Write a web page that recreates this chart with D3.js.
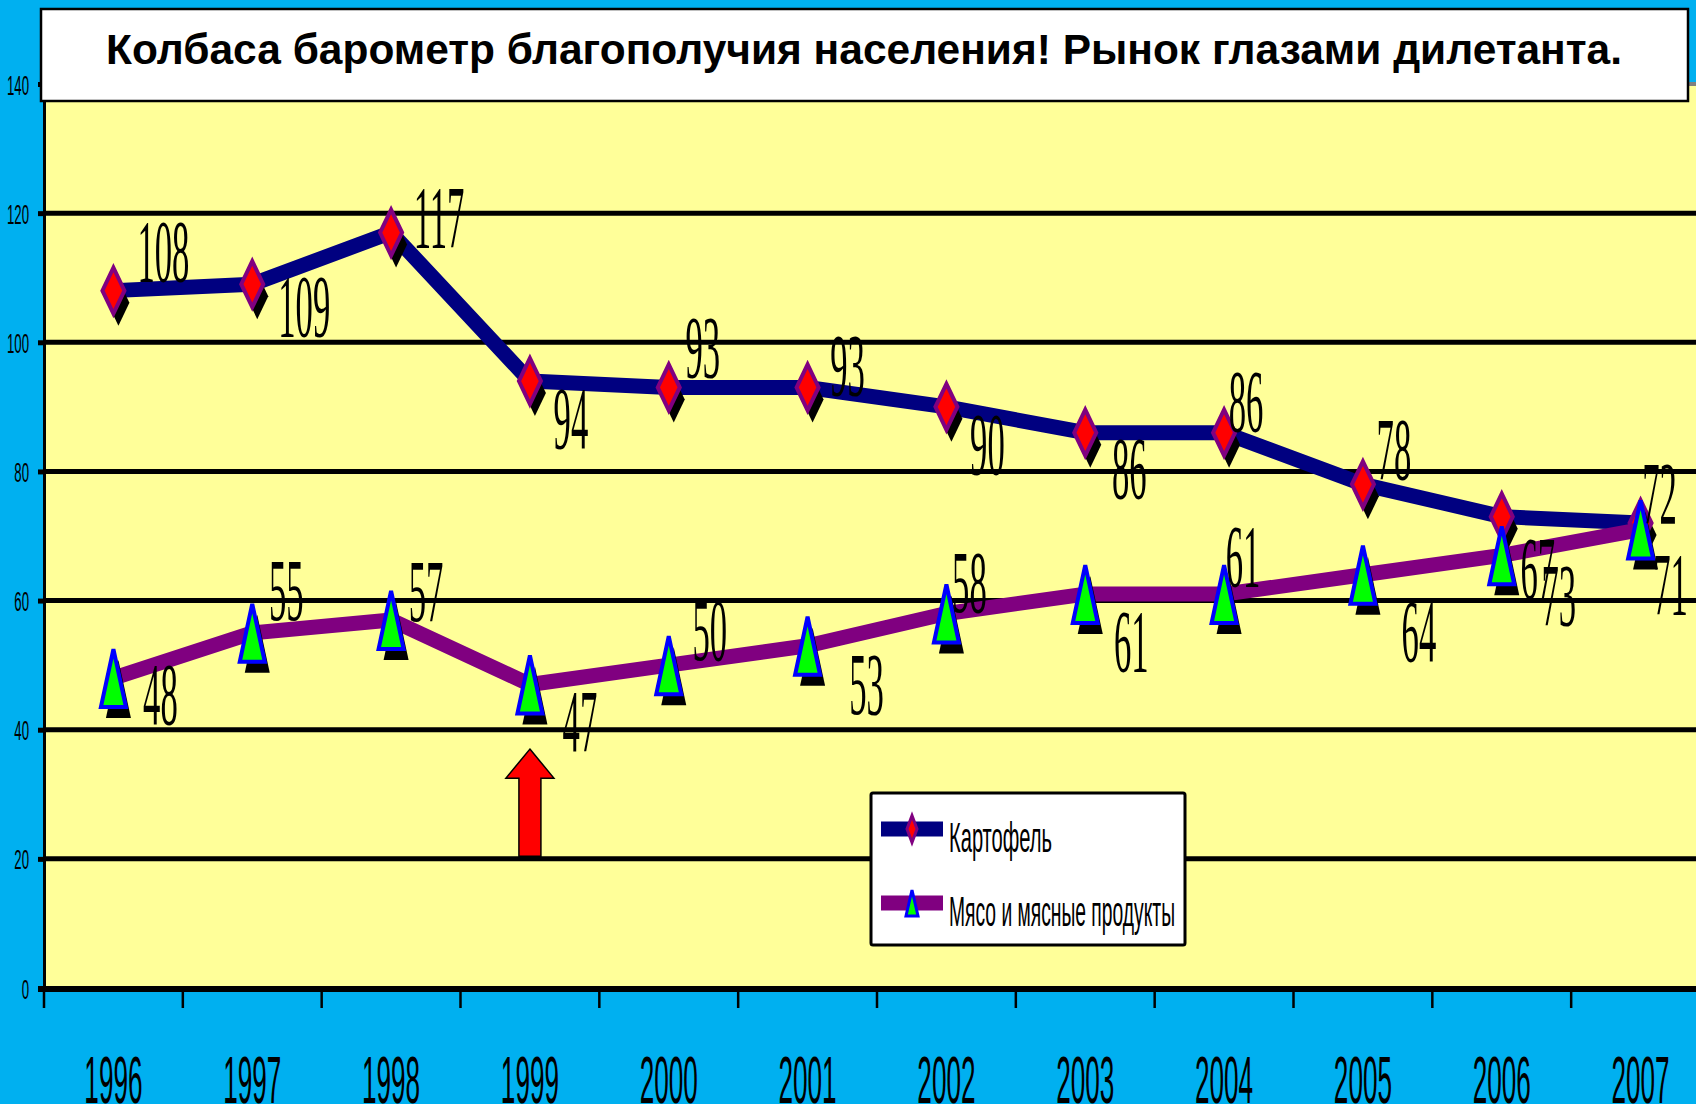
<!DOCTYPE html>
<html>
<head>
<meta charset="utf-8">
<script src="https://cdn.jsdelivr.net/npm/d3@7"></script>
<style>
  html, body { margin: 0; padding: 0; background: #00B0F0; }
  svg { display: block; }
</style>
</head>
<body>
<svg id="chart" width="1696" height="1104"></svg>
<script>
  const years = ["1996","1997","1998","1999","2000","2001","2002","2003","2004","2005","2006","2007"];
  const potato = [108, 109, 117, 94, 93, 93, 90, 86, 86, 78, 73, 72];
  const meat = [48, 55, 57, 47, 50, 53, 58, 61, 61, 64, 67, 71];
  const yTicks = [0, 20, 40, 60, 80, 100, 120, 140];
  const seriesNames = ["Картофель", "Мясо и мясные продукты"];
  const title = "Колбаса барометр благополучия населения! Рынок глазами дилетанта.";

  // where each value label sits relative to its point (px), as placed by hand in the original
  const potatoLabelOffset = [[50,-40],[52,22],[48,-16],[41,37],[34,-40],[40,-22],[41,37],[44,35],[22,-32],[31,-35],[57,78],[19,-30]];
  const meatLabelOffset = [[47,16],[34,-43],[35,-29],[50,36],[41,-35],[59,38],[23,-31],[46,47],[19,-38],[56,56],[36,13],[30,54]];

  const plot = {left: 44, right: 1710, top: 84, bottom: 988};

  const svg = d3.select("#chart");

  const x = d3.scaleBand().domain(years).range([plot.left, plot.right]);
  const y = d3.scaleLinear().domain([0, 140]).range([plot.bottom, plot.top]);
  const cx = d => x(d) + x.bandwidth() / 2;

  /*============= plot area ===============*/
  svg.append("rect")
    .attr("x", plot.left).attr("y", y(140))
    .attr("width", plot.right - plot.left).attr("height", y(0) - y(140))
    .attr("fill", "#FFFF99");

  svg.append("g").selectAll("line")
    .data(yTicks.filter(t => t > 0))
    .enter().append("line")
    .attr("x1", plot.left).attr("x2", plot.right)
    .attr("y1", d => y(d)).attr("y2", d => y(d))
    .attr("stroke", d => d === 140 ? "#808080" : "#000")
    .attr("stroke-width", d => d === 140 ? 4 : 5);

  // y axis
  const yAxis = d3.axisLeft(y).tickValues(yTicks).tickSize(6).tickSizeOuter(0);
  const gY = svg.append("g").attr("transform", `translate(${plot.left},0)`).call(yAxis);
  gY.select(".domain").attr("stroke", "#000").attr("stroke-width", 3);
  gY.selectAll(".tick line").attr("stroke", "#000").attr("stroke-width", 5);
  const sxY = 0.47;
  gY.selectAll(".tick text")
    .attr("x", -15 / sxY).attr("dy", "0.36em")
    .attr("transform", `scale(${sxY},1)`)
    .attr("font-family", "'Liberation Sans', Arial, sans-serif")
    .attr("font-size", 28).attr("fill", "#000");

  // x axis
  svg.append("line")
    .attr("x1", plot.left - 6).attr("x2", plot.right)
    .attr("y1", y(0) + 1).attr("y2", y(0) + 1)
    .attr("stroke", "#000").attr("stroke-width", 6);
  svg.append("g").selectAll("line")
    .data(years)
    .enter().append("line")
    .attr("x1", d => x(d)).attr("x2", d => x(d))
    .attr("y1", y(0)).attr("y2", y(0) + 20)
    .attr("stroke", "#000").attr("stroke-width", 2.5);
  const sxX = 0.39;
  svg.append("g").selectAll("text")
    .data(years)
    .enter().append("text")
    .attr("transform", d => `translate(${cx(d)},1103) scale(${sxX},1)`)
    .attr("text-anchor", "middle")
    .attr("font-family", "'Liberation Sans', Arial, sans-serif")
    .attr("font-size", 67).attr("fill", "#000")
    .text(d => d);

  /*============= series ===============*/
  const diamond = (w, h) => `M0,${-h/2}L${w/2},0L0,${h/2}L${-w/2},0Z`;
  const triangle = (w, h) => `M0,${-h/2}L${w/2},${h/2}L${-w/2},${h/2}Z`;

  const line = d3.line().x((d, i) => cx(years[i])).y(d => y(d));

  function drawSeries(values, color, markerPath, fill, stroke, shadow) {
    const g = svg.append("g");
    g.append("path").datum(values)
      .attr("d", line)
      .attr("fill", "none").attr("stroke", color)
      .attr("stroke-width", 15).attr("stroke-linejoin", "round");
    const m = g.selectAll("g.mk").data(values).enter().append("g")
      .attr("transform", (d, i) => `translate(${cx(years[i])},${y(d)})`);
    m.append("path").attr("d", markerPath)
      .attr("transform", `translate(${shadow[0]},${shadow[1]})`)
      .attr("fill", "#000");
    m.append("path").attr("d", markerPath)
      .attr("fill", fill).attr("stroke", stroke).attr("stroke-width", 4);
  }

  drawSeries(potato, "#000080", diamond(22, 46), "#FF0000", "#800080", [5, 12]);
  drawSeries(meat, "#800080", triangle(25, 58), "#00FF00", "#0000FF", [5, 11]);

  // value labels
  const sxL = 0.39;
  function drawLabels(values, offsets) {
    svg.append("g").selectAll("text")
      .data(values)
      .enter().append("text")
      .attr("transform", (d, i) =>
        `translate(${cx(years[i]) + offsets[i][0]},${y(d) + offsets[i][1] + 30}) scale(${sxL},1)`)
      .attr("text-anchor", "middle")
      .attr("font-family", "'Liberation Serif', 'Times New Roman', serif")
      .attr("font-size", 89).attr("fill", "#000")
      .text(d => d);
  }
  drawLabels(potato, potatoLabelOffset);
  drawLabels(meat, meatLabelOffset);

  /*============= red arrow under 1999 ===============*/
  const ax = cx("1999"), tipY = y(37), headY = y(32.5), baseY = y(20.4);
  svg.append("path")
    .attr("d", `M${ax},${tipY}L${ax+24},${headY}L${ax+11},${headY}L${ax+11},${baseY}` +
               `L${ax-11},${baseY}L${ax-11},${headY}L${ax-24},${headY}Z`)
    .attr("fill", "#FF0000").attr("stroke", "#000").attr("stroke-width", 1.5);

  /*============= legend ===============*/
  const lg = svg.append("g");
  lg.append("rect")
    .attr("x", 871).attr("y", 793).attr("width", 314).attr("height", 152)
    .attr("fill", "#fff").attr("stroke", "#000").attr("stroke-width", 3).attr("rx", 2);
  const legendRows = [
    {name: seriesNames[0], color: "#000080", marker: diamond(10, 27), fill: "#FF0000", stroke: "#800080", len: 103},
    {name: seriesNames[1], color: "#800080", marker: triangle(12, 26), fill: "#00FF00", stroke: "#0000FF", len: 226}
  ];
  const row = lg.selectAll("g.row").data(legendRows).enter().append("g")
    .attr("transform", (d, i) => `translate(0,${829 + i * 74})`);
  row.append("line")
    .attr("x1", 881).attr("x2", 943).attr("y1", 0).attr("y2", 0)
    .attr("stroke", d => d.color).attr("stroke-width", 15);
  row.append("path")
    .attr("d", d => d.marker)
    .attr("transform", "translate(912,0)")
    .attr("fill", d => d.fill).attr("stroke", d => d.stroke).attr("stroke-width", 3);
  row.append("text")
    .attr("x", 949).attr("y", 23)
    .attr("font-family", "'Liberation Sans', Arial, sans-serif")
    .attr("font-size", 43).attr("fill", "#000")
    .attr("textLength", d => d.len).attr("lengthAdjust", "spacingAndGlyphs")
    .text(d => d.name);

  /*============= title ===============*/
  svg.append("rect")
    .attr("x", 41).attr("y", 9).attr("width", 1647).attr("height", 92)
    .attr("fill", "#fff").attr("stroke", "#000").attr("stroke-width", 2.5);
  svg.append("text")
    .attr("x", 106).attr("y", 64)
    .attr("font-family", "'Liberation Sans', Arial, sans-serif")
    .attr("font-weight", "bold").attr("font-size", 42).attr("fill", "#000")
    .attr("textLength", 1516).attr("lengthAdjust", "spacingAndGlyphs")
    .text(title);
</script>
</body>
</html>
